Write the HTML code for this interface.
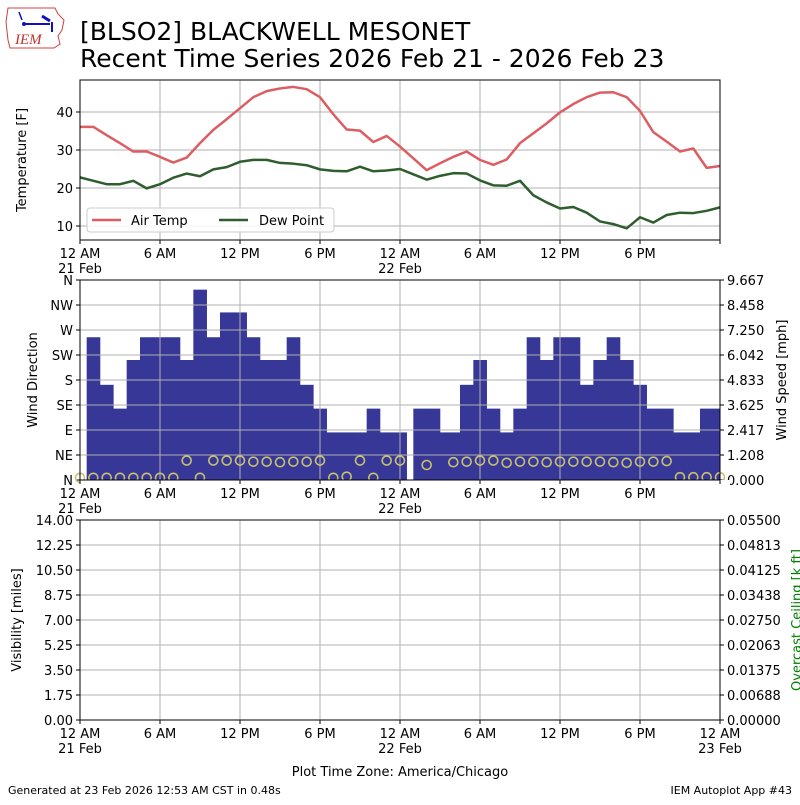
<!DOCTYPE html>
<html><head><meta charset="utf-8"><style>
html,body{margin:0;padding:0;background:#fff;}
svg text{font-family:"DejaVu Sans","Liberation Sans",sans-serif;}
</style></head><body>
<svg id="c" width="800" height="800" viewBox="0 0 800 800" xmlns="http://www.w3.org/2000/svg">
<g>
<path d="M8,8 L55,8 L58,14 L64,20 L62,30 L58,36 L60,44 L54,48 L10,48 L8,40 L6,22 Z" fill="#fff" stroke="#d04040" stroke-width="1"/>
<line x1="24" y1="24" x2="50" y2="24" stroke="#1010c0" stroke-width="2"/>
<line x1="19" y1="12" x2="22" y2="20" stroke="#1010c0" stroke-width="1.5"/>
<circle cx="24" cy="24" r="2" fill="#1010c0"/>
<line x1="42" y1="16" x2="50" y2="21" stroke="#1010c0" stroke-width="3"/>
<line x1="52" y1="22" x2="52" y2="32" stroke="#1010c0" stroke-width="2"/>
<text x="15" y="44" font-size="15" font-style="italic" fill="#c03030" style="font-family:'Liberation Serif',serif">IEM</text>
</g>
<text x="80" y="40" font-size="25" fill="#000">[BLSO2] BLACKWELL MESONET</text>
<text x="80" y="67" font-size="25" fill="#000">Recent Time Series 2026 Feb 21 - 2026 Feb 23</text>
<text x="8" y="794" font-size="11">Generated at 23 Feb 2026 12:53 AM CST in 0.48s</text>
<text x="792" y="794" font-size="11" text-anchor="end">IEM Autoplot App #43</text>
<g id="p1"></g>
<g id="p2"></g>
<g id="p3"></g>
</svg>
<script>
const airTemp=[36.1,36.1,33.9,31.8,29.6,29.6,28.2,26.7,28.0,31.8,35.3,38.1,41.0,43.9,45.5,46.2,46.6,46.0,43.9,39.4,35.4,35.1,32.1,33.7,30.9,27.8,24.7,26.5,28.2,29.6,27.4,26.1,27.5,31.8,34.4,37.0,39.9,42.1,43.9,45.1,45.2,43.9,40.3,34.7,32.2,29.6,30.4,25.3,25.8];
const dewPoint=[22.8,21.9,21.0,21.0,21.9,19.9,21.0,22.7,23.8,23.1,24.9,25.5,26.9,27.4,27.4,26.6,26.4,26.0,24.9,24.5,24.4,25.6,24.4,24.6,25.0,23.6,22.2,23.2,23.9,23.8,22.0,20.7,20.6,21.9,18.1,16.2,14.6,15.0,13.5,11.2,10.5,9.4,12.3,10.9,12.9,13.5,13.4,14.0,14.9];
const barStart=[0.5,1.5,2.5,3.5,4.5,5.5,6.5,7.5,8.5,9.5,10.5,11.5,12.5,13.5,14.5,15.5,16.5,17.5,18.5,19.5,20.5,21.5,22.5,23.5,25,26,27,28.5,29.5,30.5,31.5,32.5,33.5,34.5,35.5,36.5,37.5,38.5,39.5,40.5,41.5,42.5,43.5,44.5,45.5,46.5];
const barEnd=[1.5,2.5,3.5,4.5,5.5,6.5,7.5,8.5,9.5,10.5,11.5,12.5,13.5,14.5,15.5,16.5,17.5,18.5,19.5,20.5,21.5,22.5,23.5,24.5,26,27,28.5,29.5,30.5,31.5,32.5,33.5,34.5,35.5,36.5,37.5,38.5,39.5,40.5,41.5,42.5,43.5,44.5,45.5,46.5,48];
const windSpeed=[6.9,4.6,3.45,5.8,6.9,6.9,6.9,5.8,9.2,6.9,8.1,8.1,6.9,5.8,5.8,6.9,4.6,3.45,2.3,2.3,2.3,3.45,2.3,2.3,3.45,3.45,2.3,4.6,5.8,3.45,2.3,3.45,6.9,5.8,6.9,6.9,4.6,5.8,6.9,5.8,4.6,3.45,3.45,2.3,2.3,3.45];
const dirTime=[0,1,2,3,4,5,6,7,8,9,10,11,12,13,14,15,16,17,18,19,20,21,22,23,24,26,28,29,30,31,32,33,34,35,36,37,38,39,40,41,42,43,44,45,46,47,48];
const windDir=[4,4,4,4,4,4,4,4,35,4,35,35,35,33,33,32,33,33,35,4,6,35,4,35,35,27,32,33,35,35,31,33,33,32,33,33,33,33,32,31,33,33,34,5,5,5,5];
const tempTicks=[10,20,30,40];
const dirLabels=["N","NE","E","SE","S","SW","W","NW","N"];
const speedTicks=[0,1.208,2.417,3.625,4.833,6.042,7.250,8.458,9.667];
const visTicks=[0,1.75,3.5,5.25,7,8.75,10.5,12.25,14];
const ceilTicks=[0,0.00688,0.01375,0.02063,0.0275,0.03438,0.04125,0.04813,0.055];
const timeTicks=[0,6,12,18,24,30,36,42,48];
const timeLabels=["12 AM","6 AM","12 PM","6 PM","12 AM","6 AM","12 PM","6 PM","12 AM"];
const dateLabels={0:"21 Feb",24:"22 Feb",48:"23 Feb"};

const NS="http://www.w3.org/2000/svg";
function mk(parent,tag,attrs,text){const e=document.createElementNS(NS,tag);for(const k in attrs)e.setAttribute(k,attrs[k]);if(text!==undefined)e.textContent=text;parent.appendChild(e);return e;}
const X0=80,X1=720;
const xs=t=>X0+(t/48)*(X1-X0);

function panel(g,top,bot,maxLabelT){
  timeTicks.forEach(t=>{const l=mk(g,'line',{x1:xs(t),x2:xs(t),y1:top,y2:bot,stroke:'#b0b0b0','stroke-width':1});
  
  });
  timeTicks.forEach((t,i)=>{
    mk(g,'line',{x1:xs(t),x2:xs(t),y1:bot,y2:bot+4,stroke:'#000'});
    if(t<=maxLabelT){
      const tx=mk(g,'text',{x:xs(t),y:bot+18,'font-size':13,'text-anchor':'middle'},timeLabels[i]);
      
      
      if(dateLabels[t]){const d=mk(g,'text',{x:xs(t),y:bot+33,'font-size':13,'text-anchor':'middle'},dateLabels[t]);
      
      }
    }
  });
}
function frame(g,top,bot){const r=mk(g,'rect',{x:X0,y:top,width:X1-X0,height:bot-top,fill:'none',stroke:'#000','stroke-width':1});

}

(function(){
  const g=document.getElementById('p1');const top=80,bot=240;
  const ys=v=>226-(v-10)*3.8;
  tempTicks.forEach(v=>{const l=mk(g,'line',{x1:X0,x2:X1,y1:ys(v),y2:ys(v),stroke:'#b0b0b0'});
  
  
  mk(g,'line',{x1:X0-4,x2:X0,y1:ys(v),y2:ys(v),stroke:'#000'});
  const t=mk(g,'text',{x:X0-7,y:ys(v)+5,'font-size':13,'text-anchor':'end'},String(v));
  
  });
  panel(g,top,bot,42);
  const line=(arr,col,name)=>{const p=mk(g,'polyline',{points:arr.map((v,i)=>xs(i)+','+ys(v)).join(' '),fill:'none',stroke:col,'stroke-width':2.5,'stroke-linejoin':'round'});
  
  };
  line(airTemp,'#dc5e62','air-temp-line');
  line(dewPoint,'#2e5e2e','dew-point-line');
  frame(g,top,bot);
  const yl=mk(g,'text',{x:26,y:160,'font-size':13,'text-anchor':'middle',transform:'rotate(-90 26 160)'},'Temperature [F]');
  
  
  const lg=mk(g,'g',{});
  
  
  mk(lg,'rect',{x:87,y:208,width:247,height:24,rx:3,fill:'#fff','fill-opacity':0.85,stroke:'#ccc'});
  mk(lg,'line',{x1:92,x2:121,y1:220,y2:220,stroke:'#dc5e62','stroke-width':2.5});
  const a=mk(lg,'text',{x:131,y:225,'font-size':13},'Air Temp');
  
  
  mk(lg,'line',{x1:219,x2:248,y1:220,y2:220,stroke:'#2e5e2e','stroke-width':2.5});
  const d=mk(lg,'text',{x:259,y:225,'font-size':13},'Dew Point');
  
  
})();

(function(){
  const g=document.getElementById('p2');const top=280,bot=480;
  const ys=v=>bot-(v/9.667)*(bot-top);
  const yd=d=>bot-(d/360)*(bot-top);
  dirLabels.forEach((lab,i)=>{const y=bot-i*25;
    const l=mk(g,'line',{x1:X0,x2:X1,y1:y,y2:y,stroke:'#b0b0b0'});
    
    
    mk(g,'line',{x1:X0-4,x2:X0,y1:y,y2:y,stroke:'#000'});
    const t=mk(g,'text',{x:X0-7,y:y+5,'font-size':13,'text-anchor':'end'},lab);
    
    });
  speedTicks.forEach(v=>{const y=ys(v);
    mk(g,'line',{x1:X1,x2:X1+4,y1:y,y2:y,stroke:'#000'});
    const t=mk(g,'text',{x:X1+7,y:y+5,'font-size':13},v.toFixed(3));
    
    });
  panel(g,top,bot,42);
  windSpeed.forEach((v,i)=>{const x=xs(barStart[i]),w=xs(barEnd[i])-x;
    const r=mk(g,'rect',{x:x,y:ys(v),width:w+0.3,height:bot-ys(v),fill:'#373797'});
    
    });
  dirLabels.forEach((lab,i)=>{const y=bot-i*25;mk(g,'line',{x1:X0,x2:X1,y1:y,y2:y,stroke:'#b0b0b0'});});
  timeTicks.forEach(t=>{mk(g,'line',{x1:xs(t),x2:xs(t),y1:top,y2:bot,stroke:'#b0b0b0'});});
  const cg=mk(g,'g',{});
  windDir.forEach((d,i)=>{const c=mk(cg,'circle',{cx:xs(dirTime[i]),cy:yd(d),r:4.5,fill:'none',stroke:'#c8c070','stroke-width':1.6});
    
    });
  mk(g,'rect',{x:X0,y:bot,width:X1-X0+10,height:8,fill:'#fff'});
  timeTicks.forEach(t=>mk(g,'line',{x1:xs(t),x2:xs(t),y1:bot,y2:bot+4,stroke:'#000'}));
  frame(g,top,bot);
  const yl=mk(g,'text',{x:37,y:380,'font-size':13,'text-anchor':'middle',transform:'rotate(-90 37 380)'},'Wind Direction');
  
  
  const yr=mk(g,'text',{x:786,y:380,'font-size':13,'text-anchor':'middle',transform:'rotate(-90 786 380)'},'Wind Speed [mph]');
  
  
})();

(function(){
  const g=document.getElementById('p3');const top=520,bot=720;
  visTicks.forEach((v,i)=>{const y=bot-i*25;
    const l=mk(g,'line',{x1:X0,x2:X1,y1:y,y2:y,stroke:'#b0b0b0'});
    
    
    mk(g,'line',{x1:X0-4,x2:X0,y1:y,y2:y,stroke:'#000'});
    const t=mk(g,'text',{x:X0-7,y:y+5,'font-size':13,'text-anchor':'end'},v.toFixed(2));
    
    });
  ceilTicks.forEach((v,i)=>{const y=bot-i*25;
    mk(g,'line',{x1:X1,x2:X1+4,y1:y,y2:y,stroke:'#000'});
    const t=mk(g,'text',{x:X1+7,y:y+5,'font-size':13},v.toFixed(5));
    
    });
  panel(g,top,bot,48);
  frame(g,top,bot);
  const yl=mk(g,'text',{x:21,y:620,'font-size':13,'text-anchor':'middle',transform:'rotate(-90 21 620)'},'Visibility [miles]');
  
  
  const yr=mk(g,'text',{x:801,y:620,'font-size':13,'text-anchor':'middle',fill:'green',transform:'rotate(-90 801 620)'},'Overcast Ceiling [k ft]');
  
  
  const xl=mk(g,'text',{x:400,y:776,'font-size':13,'text-anchor':'middle'},'Plot Time Zone: America/Chicago');
  
  
})();
</script>
</body></html>
